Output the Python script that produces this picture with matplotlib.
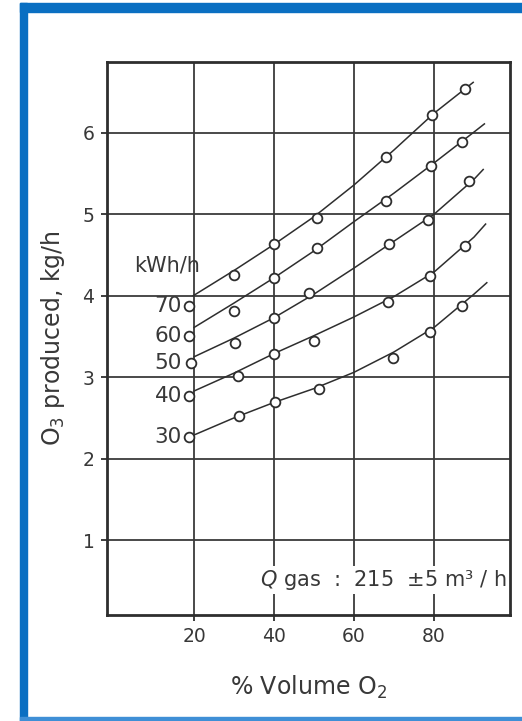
import matplotlib
matplotlib.use("Agg")
import matplotlib.pyplot as plt
from matplotlib.patches import Rectangle

plt.rcParams['font.family'] = ['DejaVu Sans']

# power levels (kWh/h)
power = [70, 60, 50, 40, 30]

# measured points (% volume O2, O3 kg/h)
pts_x = {
    70: [18.8, 30.0, 40.1, 50.7, 68.0, 79.4, 87.8],
    60: [18.8, 30.0, 40.0, 50.8, 68.0, 79.3, 86.9],
    50: [19.2, 30.3, 40.1, 48.8, 68.8, 78.6, 88.8],
    40: [18.7, 30.9, 40.1, 50.0, 68.4, 79.0, 87.8],
    30: [18.8, 31.2, 40.2, 51.2, 69.8, 79.0, 87.1],
}
pts_y = {
    70: [3.88, 4.25, 4.64, 4.95, 5.70, 6.22, 6.54],
    60: [3.51, 3.81, 4.22, 4.59, 5.16, 5.59, 5.89],
    50: [3.17, 3.42, 3.73, 4.03, 4.64, 4.93, 5.41],
    40: [2.77, 3.01, 3.29, 3.44, 3.92, 4.24, 4.61],
    30: [2.26, 2.52, 2.69, 2.86, 3.24, 3.55, 3.87],
}

# drawn trend curves
curve_x = {
    70: [19.8, 30, 40, 50, 60, 70, 80, 89.8],
    60: [20, 30, 40, 50, 60, 70, 80, 90, 92.6],
    50: [20, 30, 40, 50, 60, 70, 80, 90, 92.3],
    40: [20, 30, 40, 50, 60, 70, 80, 90, 92.9],
    30: [20, 30, 40, 50, 60, 70, 80, 90, 93.2],
}
curve_y = {
    70: [4.00, 4.31, 4.63, 4.97, 5.36, 5.79, 6.24, 6.62],
    60: [3.61, 3.91, 4.22, 4.55, 4.91, 5.26, 5.63, 6.01, 6.11],
    50: [3.25, 3.48, 3.73, 4.02, 4.34, 4.67, 5.00, 5.43, 5.55],
    40: [2.83, 3.05, 3.29, 3.51, 3.74, 3.99, 4.29, 4.72, 4.88],
    30: [2.29, 2.50, 2.69, 2.86, 3.06, 3.31, 3.61, 4.02, 4.16],
}

x_ticks = [20, 40, 60, 80]
y_ticks = [1, 2, 3, 4, 5, 6]

ink = '#2e2e2e'
txt = '#383838'
fig = plt.figure(figsize=(5.22, 7.21), dpi=100)
ax = fig.add_axes([107/522, 1-615/721, (510-107)/522, (615-62)/721])

for p in power:
    ax.plot(curve_x[p], curve_y[p], color=ink, lw=1.1, zorder=3, solid_joinstyle='round')
    ax.plot(pts_x[p], pts_y[p], 'o', mfc='white', mec=ink, mew=1.3, ms=7, zorder=4)
    ax.text(17.0, pts_y[p][0], str(p), ha='right', va='center', fontsize=15.5, color=txt)

ax.text(5.0, 4.37, 'kWh/h', ha='left', va='center', fontsize=15, color=txt)
ax.text(36.6, 0.51, r'$Q$ gas  :  215  ±5 m³ / h', ha='left', va='center', fontsize=15,
        color=txt, bbox=dict(facecolor='white', edgecolor='none', pad=1.5), zorder=5)

ax.set_xlim(-1.75, 99)
ax.set_ylim(0.08, 6.87)
ax.set_xticks(x_ticks)
ax.set_yticks(y_ticks)
ax.grid(True, color='#3a3a3a', lw=1.3)
ax.set_axisbelow(True)
for s in ax.spines.values():
    s.set_linewidth(2.0)
    s.set_color(ink)
    s.set_zorder(6)
ax.tick_params(axis='both', labelsize=13.5, labelcolor=txt, colors=ink, length=4, width=1.3,
               direction='out', pad=5)
ax.set_xlabel('% Volume O$_2$', fontsize=17, color=txt, labelpad=20)
ax.set_ylabel('O$_3$ produced, kg/h', fontsize=17, color=txt, labelpad=11)

# blue frame
blue = '#0A6FC2'
fig.patches.append(Rectangle((20/522, 0), 7/522, 1 - 3/721, transform=fig.transFigure, color=blue))
fig.patches.append(Rectangle((20/522, 1 - 12/721), 1, 9/721, transform=fig.transFigure, color=blue))
fig.patches.append(Rectangle((20/522, 0), 1, 4/721, transform=fig.transFigure, color='#3f8fd6'))

fig.savefig('out.png', dpi=100)
